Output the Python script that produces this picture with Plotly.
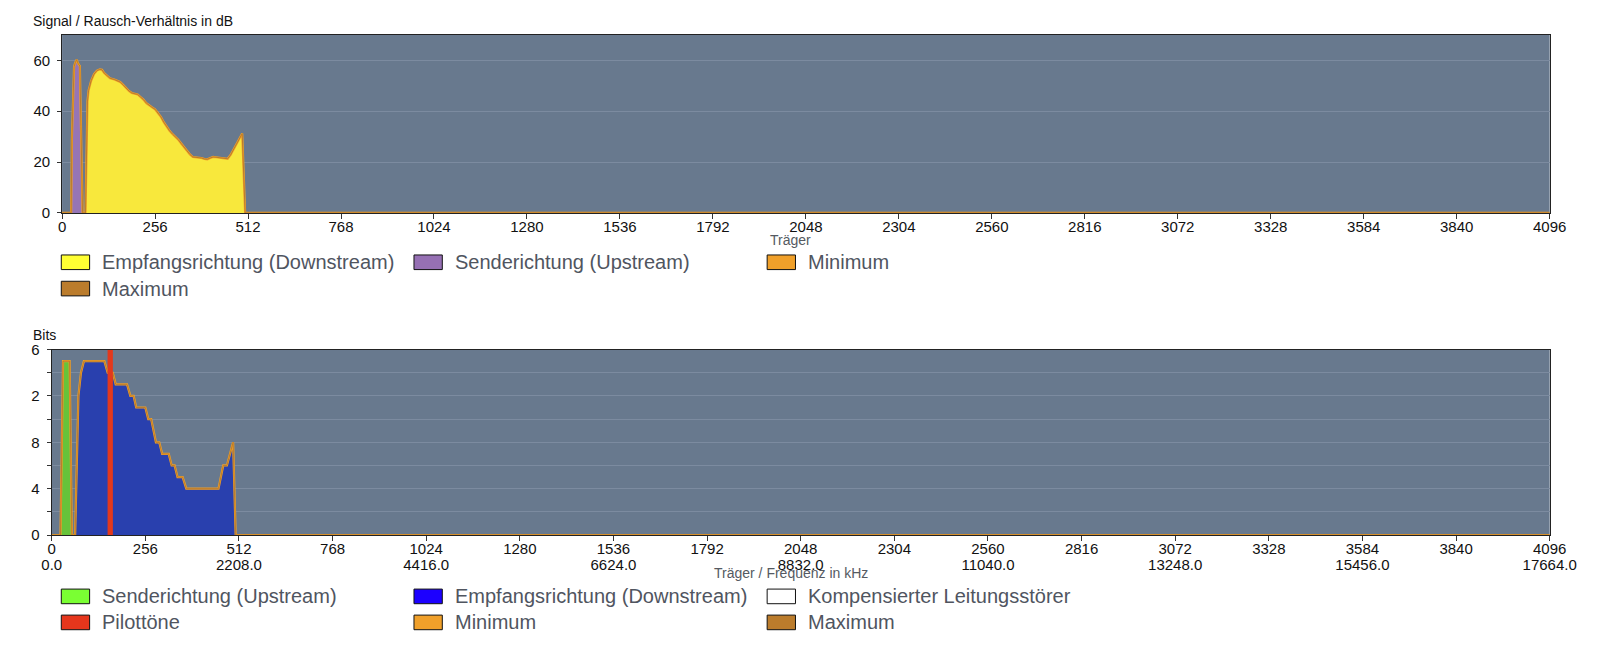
import plotly.graph_objects as go

W, H = 1606, 657
FONT = "Liberation Sans, Arial, sans-serif"

# ---------------- data ----------------
CARRIER_TICKS = list(range(0, 4097, 256))
FREQ_TICK_CARRIERS = list(range(0, 4097, 512))
CARRIER_SPACING_KHZ = 4.3125
CARRIER_MAX = 4096

SNR_TICKS = [0, 20, 40, 60]
BITS_TICKS = [0, 4, 8, 12, 16]
BITS_TICK_LABELS = ["0", "4", "8", "2", "6"]

# SNR (dB)
SNR_UP_CARRIERS = [25, 27, 30, 33, 36, 40, 44, 47, 49, 52, 54.5, 56.5]
SNR_UP_DB = [0, 29, 50, 57.5, 59, 60.3, 58.8, 58.2, 57.8, 34, 14, 0]

SNR_DOWN_CARRIERS = [64.5, 67, 70, 73, 77, 80, 88, 96, 104, 110, 116, 124, 132, 144, 152,
                     160, 168, 176, 184, 192, 200, 208, 216, 224, 232, 240, 248, 256, 264,
                     272, 280, 288, 296, 304, 312, 320, 328, 336, 344, 352, 360, 368, 376,
                     384, 392, 400, 408, 416, 424, 432, 440, 448, 456, 464, 472, 480, 488,
                     496, 504]
SNR_DOWN_DB = [0, 30, 44, 48.2, 50.6, 52.0, 54.6, 56.0, 56.5, 56.3, 55.0, 53.8, 53.0, 52.5, 52.1,
               51.5, 50.4, 49.0, 48.0, 47.2, 47.0, 46.6, 45.6, 44.6, 43.2, 42.2, 41.5, 40.8, 39.3,
               37.8, 35.7, 33.8, 32.3, 31.0, 30.0, 28.8, 27.3, 25.8, 24.3, 23.0, 22.0, 21.9, 21.7,
               21.6, 21.2, 21.1, 21.6, 22.0, 21.9, 21.7, 21.5, 21.2, 21.3, 22.8, 25.0, 27.2, 29.2,
               31.2, 0]

# Bits per carrier
BITS_UP_CARRIERS = [24, 31, 49, 55]
BITS_UP = [0, 15, 15, 0]

BITS_DOWN_CARRIERS = [64, 73, 80, 88, 144, 153, 167, 175, 206, 215, 224, 231, 256, 264, 272,
                      285, 294, 302, 320, 328, 336, 344, 358, 368, 456, 469, 479, 496, 503]
BITS_DOWN = [0, 12, 14, 15, 15, 14, 14, 13, 13, 12, 12, 11, 11, 10, 10,
             8, 8, 7, 7, 6, 6, 5, 5, 4, 4, 6, 6, 8, 0]

PILOT_CARRIERS = [160]
PILOT_BITS = 16

KOMP_CARRIERS = [0, CARRIER_MAX]
KOMP_BITS = [0, 0]

# envelopes (minimum / maximum equal current values)
SNR_ENV_X = [0] + SNR_UP_CARRIERS + SNR_DOWN_CARRIERS + [CARRIER_MAX]
SNR_ENV_Y = [0] + SNR_UP_DB + SNR_DOWN_DB + [0]
BITS_ENV_X = [0] + BITS_UP_CARRIERS + BITS_DOWN_CARRIERS + [CARRIER_MAX]
BITS_ENV_Y = [0] + BITS_UP + BITS_DOWN + [0]

# ---------------- styles ----------------
BG = "#68798e"
GRID = "#7c8ba0"
AXC = "#222222"
MIN_C = "#f0a02a"
MAX_C = "#bb7c2c"

def fx(px):
    return px / W

def fy(px):
    return 1 - px / H

fig = go.Figure()

# ---- top chart ----
fig.add_trace(go.Scatter(x=SNR_UP_CARRIERS, y=SNR_UP_DB, mode="lines", fill="tozeroy",
                         fillcolor="#9675b5", line=dict(color="#9675b5", width=0.5),
                         xaxis="x", yaxis="y", hoverinfo="skip"))
fig.add_trace(go.Scatter(x=SNR_DOWN_CARRIERS, y=SNR_DOWN_DB, mode="lines", fill="tozeroy",
                         fillcolor="#f8e83c", line=dict(color="#f8e83c", width=0.5),
                         xaxis="x", yaxis="y", hoverinfo="skip"))
fig.add_trace(go.Scatter(x=SNR_ENV_X, y=SNR_ENV_Y, mode="lines",
                         line=dict(color=MIN_C, width=2.2), xaxis="x", yaxis="y", hoverinfo="skip"))
fig.add_trace(go.Scatter(x=SNR_ENV_X, y=SNR_ENV_Y, mode="lines",
                         line=dict(color=MAX_C, width=1), xaxis="x", yaxis="y", hoverinfo="skip"))

# ---- bottom chart ----
fig.add_trace(go.Scatter(x=[c * CARRIER_SPACING_KHZ for c in KOMP_CARRIERS], y=KOMP_BITS,
                         mode="lines", line=dict(color="#ffffff", width=0), opacity=0,
                         xaxis="x3", yaxis="y2", hoverinfo="skip"))
fig.add_trace(go.Scatter(x=BITS_UP_CARRIERS, y=BITS_UP, mode="lines", fill="tozeroy",
                         fillcolor="#66c33a", line=dict(color="#66c33a", width=0.5),
                         xaxis="x2", yaxis="y2", hoverinfo="skip"))
fig.add_trace(go.Scatter(x=BITS_DOWN_CARRIERS, y=BITS_DOWN, mode="lines", fill="tozeroy",
                         fillcolor="#2940ae", line=dict(color="#2940ae", width=0.5),
                         xaxis="x2", yaxis="y2", hoverinfo="skip"))
fig.add_trace(go.Scatter(x=BITS_ENV_X, y=BITS_ENV_Y, mode="lines",
                         line=dict(color=MIN_C, width=2.2), xaxis="x2", yaxis="y2", hoverinfo="skip"))
fig.add_trace(go.Scatter(x=BITS_ENV_X, y=BITS_ENV_Y, mode="lines",
                         line=dict(color=MAX_C, width=1), xaxis="x2", yaxis="y2", hoverinfo="skip"))
for pc in PILOT_CARRIERS:
    fig.add_trace(go.Scatter(x=[pc, pc], y=[0, PILOT_BITS], mode="lines",
                             line=dict(color="#e3381c", width=5.3), xaxis="x2", yaxis="y2",
                             hoverinfo="skip"))

tickfont = dict(family=FONT, size=15, color="#111111")
common_x = dict(range=[0, CARRIER_MAX], tickvals=CARRIER_TICKS, ticks="outside", ticklen=5,
                tickcolor="#333333", showline=True, linecolor=AXC, linewidth=1, mirror=True,
                showgrid=False, zeroline=False, tickfont=tickfont, fixedrange=True,
                ticklabelstandoff=-5)
common_y = dict(ticks="outside", ticklen=4, tickcolor="#333333", showline=True, linecolor=AXC,
                linewidth=1, mirror=True, showgrid=True, gridcolor=GRID, gridwidth=1,
                zeroline=False, tickfont=tickfont, fixedrange=True, ticklabelstandoff=4)

fig.update_layout(
    width=W, height=H, margin=dict(l=0, r=0, t=0, b=0),
    paper_bgcolor="white", plot_bgcolor=BG, showlegend=False,
    font=dict(family=FONT),
    xaxis=dict(domain=[fx(53.3), fx(1576)], anchor="y", **common_x),
    yaxis=dict(domain=[fy(209.3), fy(26.7)], anchor="x", range=[0, 70], tickvals=SNR_TICKS,
               **common_y),
    xaxis2=dict(domain=[fx(42.7), fx(1576)], anchor="y2", **common_x),
    yaxis2=dict(domain=[fy(540), fy(349.6)], anchor="x2", range=[0, 16], tickvals=BITS_TICKS,
                ticktext=BITS_TICK_LABELS,
                minor=dict(dtick=2, showgrid=True, gridcolor=GRID, ticks="outside", ticklen=4,
                           tickcolor="#333333"),
                **common_y),
    xaxis3=dict(domain=[fx(42.7), fx(1576)], anchor="y2", overlaying="x2", side="bottom",
                range=[0, CARRIER_MAX * CARRIER_SPACING_KHZ],
                tickvals=[c * CARRIER_SPACING_KHZ for c in FREQ_TICK_CARRIERS],
                ticktext=[f"{c * CARRIER_SPACING_KHZ:.1f}" for c in FREQ_TICK_CARRIERS],
                ticks="outside", ticklen=21, tickcolor="rgba(0,0,0,0)", showline=False,
                showgrid=False, zeroline=False, tickfont=tickfont, fixedrange=True,
                ticklabelstandoff=-5),
)

annotations = []
shapes = []

def text(x, y, s, size, color, anchor="left"):
    annotations.append(dict(x=fx(x), y=fy(y), xref="paper", yref="paper", text=s,
                            showarrow=False, xanchor=anchor, yanchor="middle",
                            font=dict(family=FONT, size=size, color=color)))

text(22, 12.5, "Signal / Rausch-Verhältnis in dB", 14, "#111111")
text(22, 334.5, "Bits", 14, "#111111")
text(799, 237.5, "Träger", 14, "#555a62", anchor="center")
text(799, 579.3, "Träger / Frequenz in kHz", 14, "#555a62", anchor="center")

TOP_LEGEND = [("Empfangsrichtung (Downstream)", "#ffff33"),
              ("Senderichtung (Upstream)", "#9670b4"),
              ("Minimum", MIN_C), ("Maximum", MAX_C)]
BOTTOM_LEGEND = [("Senderichtung (Upstream)", "#7aff33"),
                 ("Empfangsrichtung (Downstream)", "#1c00ff"),
                 ("Kompensierter Leitungsstörer", "#ffffff"),
                 ("Pilottöne", "#e6361c"),
                 ("Minimum", MIN_C), ("Maximum", MAX_C)]
COLS = [52.5, 413.5, 775]

def legend(items, row_y):
    for i, (label, color) in enumerate(items):
        x0 = COLS[i % 3]
        yc = row_y[i // 3]
        shapes.append(dict(type="rect", xref="paper", yref="paper",
                           x0=fx(x0), x1=fx(x0 + 29), y0=fy(yc + 7.5), y1=fy(yc - 7.5),
                           fillcolor=color, line=dict(color="#111111", width=1)))
        text(x0 + 40, yc, label, 20, "#50555f")

legend(TOP_LEGEND, [260, 287])
legend(BOTTOM_LEGEND, [603, 629.7])

fig.update_layout(annotations=annotations, shapes=shapes)
fig.write_html("out.html", config={"displayModeBar": False},
               post_script="document.body.style.margin='0';document.body.style.overflow='hidden';")
